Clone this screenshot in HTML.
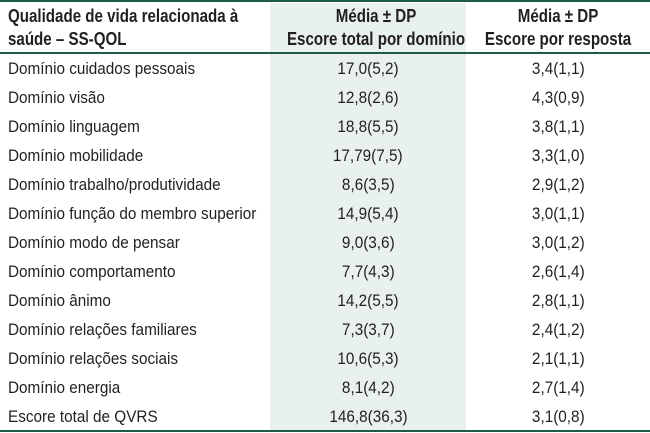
<!DOCTYPE html>
<html><head><meta charset="utf-8"><style>
body{margin:0;width:650px;height:433px;background:#fff;overflow:hidden;font-family:"Liberation Sans",sans-serif;color:#231f20}
.tbl{position:absolute;left:0;top:0;width:650px;height:433px}
.shade{position:absolute;left:270px;top:3px;width:196px;height:427px;background:#e8f1ef}
.line{position:absolute;left:0;width:650px;height:2px;background:#1f5c45}
.row{position:absolute;left:0;width:650px;height:29px;line-height:29px;font-size:17px}
.c1{position:absolute;left:8px;white-space:nowrap}
.c1 span{display:inline-block;transform:scaleX(0.9);transform-origin:left center}
.c2{position:absolute;left:270px;width:196px;text-align:center;white-space:nowrap}
.c3{position:absolute;left:466px;width:184px;text-align:center;white-space:nowrap}
.c2 span,.c3 span{display:inline-block;transform:scaleX(0.9);transform-origin:center}
.hd{position:absolute;top:5px;font-size:18px;font-weight:bold;line-height:23px;white-space:nowrap}
.hd span{display:inline-block;transform:scaleX(0.84)}
</style></head><body>
<div class="tbl">
<div class="shade"></div>
<div class="line" style="top:0"></div>
<div class="line" style="top:52px"></div>
<div class="line" style="top:430px"></div>
<div class="hd" style="left:8px"><span style="transform-origin:left center">Qualidade de vida relacionada à<br>saúde – SS-QOL</span></div>
<div class="hd" style="left:270px;width:196px;text-align:center"><span style="transform-origin:center">Média ± DP<br>Escore total por domínio</span></div>
<div class="hd" style="left:466px;width:184px;text-align:center"><span style="transform-origin:center">Média ± DP<br>Escore por resposta</span></div>
<div id="rows"></div>
</div>
<script>
const labels=["Domínio cuidados pessoais","Domínio visão","Domínio linguagem","Domínio mobilidade","Domínio trabalho/produtividade","Domínio função do membro superior","Domínio modo de pensar","Domínio comportamento","Domínio ânimo","Domínio relações familiares","Domínio relações sociais","Domínio energia","Escore total de QVRS"];
const totals=["17,0(5,2)","12,8(2,6)","18,8(5,5)","17,79(7,5)","8,6(3,5)","14,9(5,4)","9,0(3,6)","7,7(4,3)","14,2(5,5)","7,3(3,7)","10,6(5,3)","8,1(4,2)","146,8(36,3)"];
const perResp=["3,4(1,1)","4,3(0,9)","3,8(1,1)","3,3(1,0)","2,9(1,2)","3,0(1,1)","3,0(1,2)","2,6(1,4)","2,8(1,1)","2,4(1,2)","2,1(1,1)","2,7(1,4)","3,1(0,8)"];
const host=document.getElementById('rows');
function cell(cls,txt){const d=document.createElement('div');d.className=cls;const s=document.createElement('span');s.textContent=txt;d.appendChild(s);return d;}
labels.forEach((l,i)=>{
 const r=document.createElement('div');r.className='row';r.style.top=(54+i*29)+'px';
 
 
 const a=cell('c1',l);
 
 
 const b=cell('c2',totals[i]);
 
 
 const c=cell('c3',perResp[i]);
 
 
 r.append(a,b,c);host.appendChild(r);
});
</script>
</body></html>
